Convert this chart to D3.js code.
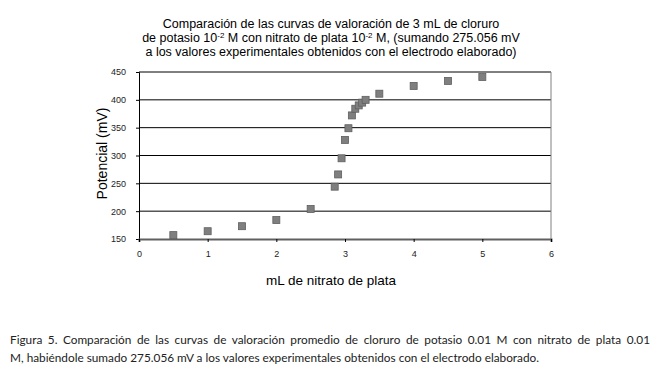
<!DOCTYPE html>
<html>
<head>
<meta charset="utf-8">
<style>
  body { margin: 0; background: #fff; }
  .tick text { font: 9px "Liberation Sans", Arial, sans-serif; fill: #222; }
  .caption { position: absolute; left: 10px; width: 640px;
    font: 11.8px Lato, sans-serif; color: #222; line-height: 18px; white-space: nowrap; }
  .l1 { top: 331px; text-align: justify; text-align-last: justify; }
  .l2 { top: 349px; }
</style>
</head>
<body>
<svg id="chart" width="657" height="374"></svg>
<div class="caption l1">Figura 5. Comparación de las curvas de valoración promedio de cloruro de potasio 0.01 M con nitrato de plata 0.01</div>
<div class="caption l2">M, habiéndole sumado 275.056 mV a los valores experimentales obtenidos con el electrodo elaborado.</div>
<script src="https://d3js.org/d3.v7.min.js"></script>
<script>

var volumen = [0.5, 1, 1.5, 2, 2.5, 2.85, 2.9, 2.95, 3.0, 3.05, 3.1, 3.15, 3.2, 3.25, 3.3, 3.5, 4, 4.5, 5];
var potencial = [157, 164, 173, 184, 204, 244, 266, 295, 328, 349, 372, 384, 390, 395, 400, 411, 425, 434, 441];
var xTicks = [0, 1, 2, 3, 4, 5, 6];
var yTicks = [150, 200, 250, 300, 350, 400, 450];

var svg = d3.select("#chart");
var margin = {left: 139, right: 106, top: 72, bottom: 135},
    width = 657 - margin.left - margin.right,
    height = 374 - margin.top - margin.bottom;

var x = d3.scaleLinear().domain([0, 6]).range([0, width]);
var y = d3.scaleLinear().domain([150, 450]).range([height, 0]);

var g = svg.append("g")
    .attr("transform", "translate(" + margin.left + "," + margin.top + ")");

// grid lines
g.selectAll(".grid").data(yTicks.slice(1))
  .enter().append("line")
    .attr("x1", 0).attr("x2", width)
    .attr("y1", function(d) { return y(d); })
    .attr("y2", function(d) { return y(d); })
    .attr("stroke", "#000").attr("stroke-width", 1);

// right border
g.append("line")
    .attr("x1", width).attr("x2", width)
    .attr("y1", 0).attr("y2", height)
    .attr("stroke", "#808080");

var yAxis = g.append("g")
    .call(d3.axisLeft(y).tickValues(yTicks).tickSize(3).tickPadding(10));
yAxis.select(".domain").attr("stroke", "#000");

var xAxis = g.append("g")
    .attr("transform", "translate(0," + height + ")")
    .call(d3.axisBottom(x).tickValues(xTicks).tickFormat(d3.format("d")).tickSize(3).tickPadding(9));
xAxis.select(".domain").attr("stroke", "#606060").attr("stroke-width", 2);

// points
g.selectAll(".pt").data(volumen)
  .enter().append("rect")
    .attr("x", function(d) { return x(d) - 3.5; })
    .attr("y", function(d, i) { return y(potencial[i]) - 3.5; })
    .attr("width", 7).attr("height", 7)
    .attr("fill", "#7f7f7f")
    .attr("stroke", "#5f5f5f").attr("stroke-width", 0.8);

// axis titles
svg.append("text")
    .attr("transform", "translate(107," + (margin.top + height / 2 - 2) + ") rotate(-90)")
    .attr("text-anchor", "middle")
    .style("font", "14px 'Liberation Sans', Arial, sans-serif")
    .text("Potencial (mV)");

svg.append("text")
    .attr("x", 331).attr("y", 285)
    .attr("text-anchor", "middle")
    .style("font", "13.5px 'Liberation Sans', Arial, sans-serif")
    .text("mL de nitrato de plata");

// title
var title = svg.append("text")
    .attr("text-anchor", "middle")
    .style("font", "12.5px 'Liberation Sans', Arial, sans-serif");
title.append("tspan").attr("x", 331).attr("y", 28)
    .text("Comparación de las curvas de valoración de 3 mL de cloruro");
var l2 = title.append("tspan").attr("x", 331).attr("y", 42);
l2.append("tspan").text("de potasio 10");
l2.append("tspan").attr("dy", -4).style("font-size", "8px").text("-2");
l2.append("tspan").attr("dy", 4).text(" M con nitrato de plata 10");
l2.append("tspan").attr("dy", -4).style("font-size", "8px").text("-2");
l2.append("tspan").attr("dy", 4).text(" M, (sumando 275.056 mV");
title.append("tspan").attr("x", 331).attr("y", 56)
    .text("a los valores experimentales obtenidos con el electrodo elaborado)");

</script>
</body>
</html>
